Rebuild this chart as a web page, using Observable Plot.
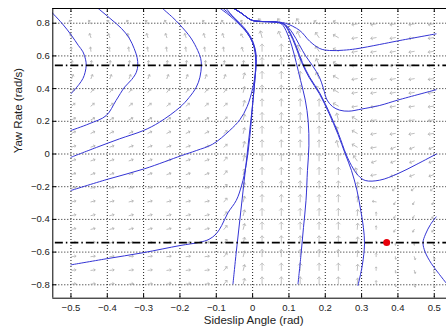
<!DOCTYPE html>
<html><head><meta charset="utf-8">
<script src="https://cdn.jsdelivr.net/npm/d3@7"></script>
<script src="https://cdn.jsdelivr.net/npm/@observablehq/plot@0.6"></script>
<style>body{margin:0;background:#fff;} svg{display:block;}</style>
</head><body><div id="chart"></div>
<script>
// axis limits and ticks
const xDomain = [-0.55, 0.5337];
const yDomain = [-0.882, 0.89];
const xTicks = [-0.5,-0.4,-0.3,-0.2,-0.1,0,0.1,0.2,0.3,0.4,0.5];
const xTickLabels = ["−0.5","−0.4","−0.3","−0.2","−0.1","0","0.1","0.2","0.3","0.4","0.5"];
const yTicks = [-0.8,-0.6,-0.4,-0.2,0,0.2,0.4,0.6,0.8];
const yTickLabels = ["−0.8","−0.6","−0.4","−0.2","0","0.2","0.4","0.6","0.8"];
const xLabel = "Sideslip Angle (rad)";
const yLabel = "Yaw Rate (rad/s)";

// vector field grid
const fieldX = [-0.498,-0.445,-0.393,-0.340,-0.288,-0.236,-0.183,-0.131,-0.079,-0.026,0.026,0.079,0.131,0.183,0.236,0.288,0.340,0.393,0.445,0.498];
const fieldY = [-0.796,-0.712,-0.628,-0.545,-0.461,-0.377,-0.293,-0.209,-0.126,-0.042,0.042,0.126,0.209,0.293,0.377,0.461,0.545,0.628,0.712,0.796];
// direction codes per row (bottom row first), one char per column
const fieldRows = [
  "AAAAAAAAZYUUUUUTSqrr",
  "AAAAAAAAZYUUUUUTSqrr",
  "AAAAAAAAZYUUUUUTSqrr",
  "BBBBBBBBZYUUUUUTsooo",
  "BBBBBBBBZYUUUUUTSppp",
  "BBBBBBBBZYUUUUUTSppp",
  "BBBBBBBBZYUUUUUTNppp",
  "BBBBBBBBZYUUUUUTNmmm",
  "CCCCCCCCZYUUUUUVLMMM",
  "CCCCCCCCZYUUUUUWMMMM",
  "CCCCCCCCEYUUUUVXLMMM",
  "DDDDDDDDEYUUUUVXLLLL",
  "DDDDDDDDEYUUUUVXLLLL",
  "EEEEEEEEEYUUUUXLLLLL",
  "FFFFFFFFFYUUUuXLLLLL",
  "GGGGGGGGGYUUUuXLLLLL",
  "HHHHHHHHHHUUUuXLLLLL",
  "IIIIIIIIIJUUuWXLLLLL",
  "JJJJJJJJJKVuuWXLLLLL",
  "KKKKKKKKKKWWWXXLLLLL"
];
// code -> [direction in degrees clockwise from up, arrow length in px]
const arrowCodes = {
  A:[82,4.2], B:[76,4.2], C:[70,4.2], D:[62,4.2], E:[50,4.2], F:[38,4.2], G:[22,4.2],
  H:[8,4.2], I:[-8,4.2], J:[-20,4.2], K:[-32,4.2],
  Z:[40,4.8], Y:[15,5.8], U:[0,7.2], V:[-15,6.8], u:[-25,6.8], W:[-35,6.2], X:[-60,5.8],
  L:[-100,5.3], M:[-112,4.8], N:[-80,3.8], m:[-130,3.8], S:[0,3.4], s:[0,2],
  p:[-150,3], q:[170,2.5], r:[160,3], o:[180,2], T:[5,6]
};

// trajectories (sideslip, yaw rate)
const trajA = [[-0.553,0.867],[-0.525,0.8],[-0.499,0.727],[-0.48,0.665],[-0.467,0.625],[-0.46,0.58],[-0.458,0.543],[-0.461,0.5],[-0.467,0.462],[-0.478,0.425],[-0.499,0.37]];
const trajB = [[-0.425,0.89],[-0.39,0.825],[-0.361,0.768],[-0.34,0.71],[-0.326,0.645],[-0.318,0.59],[-0.316,0.543],[-0.32,0.5],[-0.333,0.455],[-0.352,0.41],[-0.376,0.327],[-0.403,0.235],[-0.45,0.185],[-0.5,0.144]];
const trajC = [[-0.248,0.89],[-0.22,0.835],[-0.2,0.79],[-0.17,0.71],[-0.151,0.633],[-0.143,0.585],[-0.141,0.541],[-0.145,0.47],[-0.155,0.409],[-0.175,0.345],[-0.2,0.286],[-0.256,0.195],[-0.3,0.144],[-0.366,0.093],[-0.43,0.04],[-0.5,-0.02]];
const trajD = [[-0.5,-0.223],[-0.4,-0.155],[-0.297,-0.09],[-0.196,-0.01],[-0.155,0.021],[-0.11,0.06],[-0.063,0.144],[-0.035,0.21],[-0.015,0.29],[0.0,0.4],[0.008,0.5],[0.01,0.6],[0.002,0.68],[-0.012,0.74],[-0.035,0.8],[-0.06,0.85],[-0.08,0.888]];
const trajE = [[-0.5,-0.678],[-0.403,-0.641],[-0.302,-0.604],[-0.2,-0.56],[-0.146,-0.54],[-0.12,-0.522],[-0.1,-0.488],[-0.085,-0.437],[-0.068,-0.36],[-0.045,-0.284],[-0.03,-0.19],[-0.018,-0.07],[-0.008,0.1],[0.0,0.3],[0.006,0.45],[0.008,0.6],[0.0,0.68],[-0.015,0.74],[-0.04,0.8],[-0.065,0.85],[-0.088,0.888]];
const trajF = [[-0.054,-0.794],[-0.045,-0.6],[-0.035,-0.4],[-0.025,-0.2],[-0.015,0.0],[-0.005,0.2],[0.004,0.4],[0.009,0.55],[0.005,0.65],[-0.006,0.71],[-0.025,0.77],[-0.05,0.83],[-0.072,0.888]];
const trajG = [[-0.05,0.888],[-0.03,0.86],[-0.012,0.83],[0.001,0.816],[0.03,0.81],[0.06,0.808],[0.08,0.795],[0.095,0.74],[0.108,0.66],[0.12,0.56],[0.132,0.45],[0.145,0.33],[0.153,0.2],[0.155,0.05],[0.151,-0.1],[0.147,-0.284],[0.14,-0.45],[0.133,-0.62],[0.125,-0.794]];
const trajJ = [[-0.05,0.888],[-0.03,0.86],[-0.012,0.83],[0.001,0.816],[0.03,0.81],[0.06,0.808],[0.085,0.795],[0.102,0.74],[0.118,0.66],[0.135,0.56],[0.155,0.47],[0.184,0.368],[0.21,0.25],[0.235,0.12],[0.255,0.0],[0.272,-0.1],[0.287,-0.22],[0.298,-0.35],[0.305,-0.45],[0.308,-0.55],[0.302,-0.68],[0.29,-0.804]];
const trajI = [[-0.05,0.888],[-0.03,0.86],[-0.012,0.83],[0.001,0.816],[0.03,0.81],[0.06,0.808],[0.087,0.795],[0.104,0.74],[0.12,0.66],[0.137,0.56],[0.157,0.47],[0.186,0.368],[0.212,0.25],[0.237,0.12],[0.257,0.0],[0.272,-0.07],[0.29,-0.13],[0.31,-0.162],[0.35,-0.16],[0.4,-0.12],[0.45,-0.065],[0.506,0.0]];
const trajK = [[-0.05,0.888],[-0.03,0.86],[-0.012,0.83],[0.001,0.816],[0.03,0.81],[0.06,0.808],[0.09,0.79],[0.11,0.74],[0.128,0.67],[0.146,0.6],[0.165,0.54],[0.184,0.47],[0.195,0.4],[0.205,0.33],[0.22,0.29],[0.24,0.268],[0.265,0.262],[0.3,0.275],[0.35,0.297],[0.4,0.33],[0.505,0.393]];
const trajH = [[-0.05,0.888],[-0.03,0.86],[-0.012,0.83],[0.001,0.816],[0.03,0.81],[0.06,0.808],[0.09,0.8],[0.13,0.755],[0.157,0.69],[0.185,0.645],[0.212,0.633],[0.25,0.635],[0.284,0.643],[0.35,0.67],[0.4,0.692],[0.505,0.735]];
const trajL = [[0.505,-0.385],[0.49,-0.43],[0.476,-0.49],[0.469,-0.543],[0.475,-0.6],[0.492,-0.67],[0.512,-0.73],[0.533,-0.79]];

// reference yaw-rate lines and equilibrium point
const dashLevels = [0.542, -0.542];
const dashStartX = -0.543;
const equilibrium = [[0.369, -0.542]];

// build tables
const vectors = [];
fieldRows.forEach((row, j) => {
  [...row].forEach((c, i) => {
    const [rot, len] = arrowCodes[c];
    vectors.push({x: fieldX[i], y: fieldY[j], rotate: rot, length: len});
  });
});
const named = [["A",trajA],["B",trajB],["C",trajC],["D",trajD],["E",trajE],["F",trajF],["G",trajG],["J",trajJ],["I",trajI],["K",trajK],["H",trajH],["L",trajL]];
const lines = named.flatMap(([id, pts]) => pts.map(([x, y]) => ({id, x, y})));

const chart = Plot.plot({
  width: 446, height: 330,
  marginLeft: 52.3, marginRight: 0, marginTop: 8, marginBottom: 32.3,
  x: {domain: xDomain},
  y: {domain: yDomain},
  length: {type: "identity"},
  style: {fontFamily: "'Liberation Sans', Arial, sans-serif", fontSize: "9.5px", color: "#222", background: "#fff"},
  marks: [
    Plot.ruleX(xTicks, {stroke: "#000", strokeWidth: 0.9, strokeDasharray: "1,2"}),
    Plot.ruleY(yTicks, {stroke: "#000", strokeWidth: 0.9, strokeDasharray: "1,2"}),
    Plot.vector(vectors, {x: "x", y: "y", rotate: "rotate", length: "length", anchor: "start", stroke: "#b4b4b4", strokeWidth: 0.8, r: 4.5}),
    Plot.line(lines, {x: "x", y: "y", z: "id", stroke: "#3434d4", strokeWidth: 1, curve: "catmull-rom", clip: true}),
    Plot.ruleY(dashLevels, {x1: dashStartX, x2: xDomain[1], stroke: "#000", strokeWidth: 1.7, strokeDasharray: "8,3,1.5,3"}),
    Plot.dot(equilibrium, {x: d => d[0], y: d => d[1], r: 3.5, fill: "#e8000b", stroke: "none"}),
    Plot.ruleX([xDomain[0]], {stroke: "#000", strokeWidth: 1}),
    Plot.ruleY(yDomain, {stroke: "#000", strokeWidth: 1}),
    Plot.ruleX(xTicks, {y1: yDomain[0], y2: yDomain[0], insetBottom: 4, stroke: "#000"}),
    Plot.ruleX(xTicks, {y1: yDomain[1], y2: yDomain[1], insetTop: 4, stroke: "#000"}),
    Plot.ruleY(yTicks, {x1: xDomain[0], x2: xDomain[0], insetRight: -4, stroke: "#000"}),
    Plot.axisX(xTicks, {tickSize: 0, tickPadding: 6.5, tickFormat: d => xTickLabels[xTicks.indexOf(d)], label: null}),
    Plot.axisY(yTicks, {tickSize: 0, tickPadding: 3, tickFormat: d => yTickLabels[yTicks.indexOf(d)], label: null}),
    Plot.text([xLabel], {text: d => d, frameAnchor: "bottom", dx: 4, dy: 22, fontSize: 11.5, lineAnchor: "middle"}),
    Plot.text([yLabel], {text: d => d, frameAnchor: "left", dx: -34, rotate: -90, fontSize: 11.5, lineAnchor: "middle"})
  ]
});
document.getElementById("chart").appendChild(chart);
</script></body></html>
